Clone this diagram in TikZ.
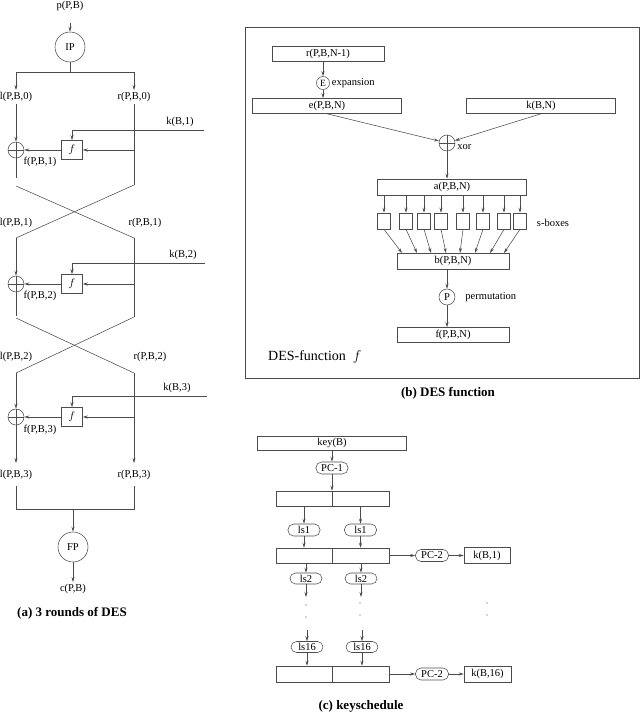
\documentclass[tikz,border=0pt]{standalone}
\usepackage{fontspec}
\setmainfont{Liberation Serif}
\usetikzlibrary{arrows.meta,positioning}
\begin{document}
\begin{tikzpicture}[
  x=1pt, y=-1pt,
  font=\fontsize{10.5}{12}\selectfont,
  wire/.style={draw=black!70, line width=0.55pt},
  arr/.style={wire, -{Stealth[length=5pt,width=3pt]}},
  lbl/.style={inner sep=2pt},
  ring/.style={circle, draw=black!70, line width=0.55pt, inner sep=0pt},
  perm/.style={ring, minimum size=30pt},
  xorc/.style={ring, minimum size=16pt,
    path picture={\draw[black!70, line width=0.55pt] (path picture bounding box.north) -- (path picture bounding box.south)
      (path picture bounding box.west) -- (path picture bounding box.east);}},
  fbox/.style={rectangle, draw=black!70, line width=0.55pt, minimum width=21pt, minimum height=19pt, inner sep=0pt},
  reg/.style={rectangle, draw=black!70, line width=0.55pt, minimum height=15pt, inner sep=0pt},
  sbox/.style={reg, minimum width=13pt, minimum height=16pt},
  pill/.style={rectangle, rounded corners=5.5pt, draw=black!70, line width=0.55pt, minimum height=12pt, inner sep=1pt},
  captxt/.style={font=\fontsize{13}{15}\selectfont\bfseries}
]
\useasboundingbox (0,0) rectangle (640,713);

% (a) Initial permutation and split
\node[lbl] (pin) at (70,6) {p(P,B)};
\node[perm] (ip) at (70,47) {IP};
\draw[arr, shorten <=10pt] (pin) -- (ip);
\coordinate (spl) at (16,72);
\coordinate (spr) at (134,72);
\node[lbl] (l0) at (16,97) {l(P,B,0)};
\node[lbl] (r0) at (134,97) {r(P,B,0)};
\draw[wire] (ip) -- (ip |- spl);
\draw[wire] (spl) -- (spr);
\draw[arr] (spl) -- (l0);
\draw[arr] (spr) -- (r0);

% Round 1
\node[xorc] (x1) at (16,150) {};
\node[fbox] (f1) at (72,150) {$f$};
\node[lbl] (fo1) at (40,162) {f(P,B,1)};
\node[lbl] (k1) at (180,122) {k(B,1)};
\coordinate (ke1) at (204,130);
\draw[arr] (l0) -- (x1);
\draw[arr] (ke1) -- (ke1 -| f1) -- (f1);
\draw[arr] (r0 |- f1) -- (f1);
\draw[arr] (f1) -- (x1);
\coordinate (le1) at (16,178);
\coordinate (la1) at (16,186);
\coordinate (ra1) at (134,185);
\coordinate (lb1) at (16,238);
\coordinate (rb1) at (134,238);
\draw[wire] (x1) -- (le1);
\draw[wire] (r0) -- (ra1);
\draw[wire] (la1) -- (rb1);
\draw[wire] (ra1) -- (lb1);
\node[lbl] (l1) at (16,223) {l(P,B,1)};
\node[lbl] (r1) at (145,223) {r(P,B,1)};

% Round 2
\node[xorc] (x2) at (16,284) {};
\node[fbox] (f2) at (72,284) {$f$};
\node[lbl] (fo2) at (40,296) {f(P,B,2)};
\node[lbl] (k2) at (183,255) {k(B,2)};
\coordinate (ke2) at (205,263);
\draw[arr] (lb1) -- (x2);
\draw[arr] (ke2) -- (ke2 -| f2) -- (f2);
\draw[arr] (rb1 |- f2) -- (f2);
\draw[arr] (f2) -- (x2);
\coordinate (le2) at (16,316);
\coordinate (la2) at (16,318);
\coordinate (ra2) at (134,317);
\coordinate (lb2) at (16,373);
\coordinate (rb2) at (134,373);
\draw[wire] (x2) -- (le2);
\draw[wire] (rb1) -- (ra2);
\draw[wire] (la2) -- (rb2);
\draw[wire] (ra2) -- (lb2);
\node[lbl] (l2) at (16,357) {l(P,B,2)};
\node[lbl] (r2) at (150,357) {r(P,B,2)};

% Round 3
\node[xorc] (x3) at (16,417) {};
\node[fbox] (f3) at (72,417) {$f$};
\node[lbl] (fo3) at (40,430) {f(P,B,3)};
\node[lbl] (k3) at (177,388) {k(B,3)};
\coordinate (ke3) at (207,396);
\draw[arr] (lb2) -- (x3);
\draw[arr] (ke3) -- (ke3 -| f3) -- (f3);
\draw[arr] (rb2 |- f3) -- (f3);
\draw[arr] (f3) -- (x3);
\node[lbl] (l3) at (16,475) {l(P,B,3)};
\node[lbl] (r3) at (134,475) {r(P,B,3)};
\draw[arr, shorten >=5pt] (x3) -- (l3);
\draw[arr, shorten >=5pt] (rb2) -- (r3);

% Final permutation
\coordinate (ml) at (16,509);
\coordinate (mr) at (134,509);
\coordinate (mc) at (73,509);
\draw[wire, shorten <=4pt, shorten >=4pt] (l3) -- (ml) -- (mr) -- (r3);
\node[perm] (fp) at (73,547) {FP};
\draw[arr] (mc) -- (fp);
\node[lbl] (cout) at (73,589) {c(P,B)};
\draw[arr] (fp) -- (cout);
\node[captxt] (capa) at (72,613) {(a) 3 rounds of DES};

% (b) DES function
\draw[wire] (245,27) rectangle (639,378);
\node[reg, minimum width=112pt] (rin) at (328,54) {r(P,B,N-1)};
\node[ring, minimum size=13pt, font=\fontsize{9.5}{10}\selectfont] (exp) at (323,83) {E};
\node[lbl, right=0pt of exp] (expl) {expansion};
\node[reg, minimum width=149pt] (ebox) at (327,106) {e(P,B,N)};
\node[reg, minimum width=149pt] (kbox) at (541,106) {k(B,N)};
\node[xorc] (xf) at (447,143) {};
\node[lbl, right=0pt of xf, yshift=-4pt] (xorl) {xor};
\node[reg, minimum width=149pt, minimum height=16pt] (abox) at (452,187) {a(P,B,N)};
\foreach \x [count=\i] in {384,406,424,441,463,483,504,520}
  \node[sbox] (s\i) at (\x,221) {};
\node[lbl] (sl) at (553,223) {s-boxes};
\node[reg, minimum width=112pt, minimum height=16pt] (bbox) at (453,261) {b(P,B,N)};
\node[ring, minimum size=16pt] (pc) at (447,297) {P};
\node[lbl, right=8pt of pc] (perml) {permutation};
\node[reg, minimum width=112pt] (fout) at (453,335) {f(P,B,N)};
\node[lbl, anchor=west, font=\fontsize{14}{16}\selectfont] (desf) at (266,357) {DES-function~~$f$};
\node[captxt] (capb) at (448,393) {(b) DES function};

\draw[arr] (exp |- rin.south) -- (exp);
\draw[arr] (exp) -- (exp |- ebox.north);
\draw[arr] (ebox.south) -- (xf);
\draw[arr] (kbox.south) -- (xf);
\draw[arr] (xf) -- (xf |- abox.north);
\foreach \x [count=\i] in {402,417,431,446,460,475,490,504} {
  \coordinate (t\i) at (\x,253);
  \draw[arr] (abox.south -| s\i) -- (s\i);
  \draw[arr] (s\i.south) -- (t\i);
}
\draw[arr] (pc |- bbox.south) -- (pc);
\draw[arr] (pc) -- (pc |- fout.north);

% (c) keyschedule
\node[reg, minimum width=149pt, minimum height=14pt] (key) at (332,443) {key(B)};
\node[pill, minimum width=32pt] (pc1) at (332,468) {PC-1};
\node[reg, minimum width=56pt] (h1l) at (304,498.5) {};
\node[reg, minimum width=57pt] (h1r) at (360.5,498.5) {};
\draw[arr] (key) -- (pc1);
\draw[arr] (pc1) -- (pc1 |- h1l.north);

\node[pill, minimum width=32pt] (ls1l) at (304,530) {ls1};
\node[pill, minimum width=32pt] (ls1r) at (360.5,530) {ls1};
\node[reg, minimum width=56pt] (h2l) at (304,555.5) {};
\node[reg, minimum width=57pt] (h2r) at (360.5,555.5) {};
\draw[arr] (h1l) -- (ls1l);
\draw[arr] (h1r) -- (ls1r);
\draw[arr] (ls1l) -- (h2l);
\draw[arr] (ls1r) -- (h2r);
\node[pill, minimum width=33pt] (pc2a) at (432,555.5) {PC-2};
\node[reg, minimum width=46pt, minimum height=16pt] (kb1) at (487,555.5) {k(B,1)};
\draw[arr] (h2r) -- (pc2a);
\draw[arr] (pc2a) -- (kb1);

\node[pill, minimum width=32pt, minimum height=11pt] (ls2l) at (306,578.5) {ls2};
\node[pill, minimum width=32pt, minimum height=11pt] (ls2r) at (361,578.5) {ls2};
\draw[arr] (h2l.south -| ls2l) -- (ls2l);
\draw[arr] (h2r.south -| ls2r) -- (ls2r);
\coordinate (dl1) at (306,597);
\coordinate (dr1) at (361,597);
\draw[arr] (ls2l) -- (dl1);
\draw[arr] (ls2r) -- (dr1);
\foreach \x/\y in {306/605, 306/617, 360/603, 360/615, 487/603, 487/615}
  \fill[black!70] (\x,\y) circle (0.6);
\coordinate (dl2) at (306,630);
\coordinate (dr2) at (361,630);

\node[pill, minimum width=32pt, minimum height=11pt] (ls16l) at (307,647) {ls16};
\node[pill, minimum width=32pt, minimum height=11pt] (ls16r) at (362,647) {ls16};
\draw[arr] (dl2 -| ls16l) -- (ls16l);
\draw[arr] (dr2 -| ls16r) -- (ls16r);
\node[reg, minimum width=56pt, minimum height=16pt] (h3l) at (304,674) {};
\node[reg, minimum width=57pt, minimum height=16pt] (h3r) at (360.5,674) {};
\draw[arr] (ls16l) -- (ls16l |- h3l.north);
\draw[arr] (ls16r) -- (ls16r |- h3r.north);
\node[pill, minimum width=33pt] (pc2b) at (432,674) {PC-2};
\node[reg, minimum width=47pt, minimum height=16pt] (kb16) at (487.5,674) {k(B,16)};
\draw[arr] (h3r) -- (pc2b);
\draw[arr] (pc2b) -- (kb16);
\node[captxt] (capc) at (361,706) {(c) keyschedule};
\end{tikzpicture}
\end{document}
